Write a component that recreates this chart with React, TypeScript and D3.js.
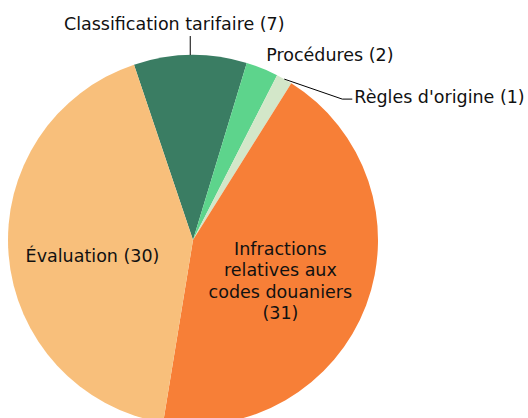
import React from "react";
import * as d3 from "d3";

const categories = [
  "Classification tarifaire",
  "Procédures",
  "Règles d'origine",
  "Infractions relatives aux codes douaniers",
  "Évaluation",
];
const values = [7, 2, 1, 31, 30];
const colors = ["#3a7d63", "#5dd48c", "#d3e7c9", "#f77f37", "#f8bf7b"];
const labelLines = [
  ["Classification tarifaire (7)"],
  ["Procédures (2)"],
  ["Règles d'origine (1)"],
  ["Infractions", "relatives aux", "codes douaniers", "(31)"],
  ["Évaluation (30)"],
];

const W = 528;
const H = 418;
const cx = 193;
const cy = 240;
const R = 185;
const startDeg = -18.6;

export default function App() {
  const data = categories.map((c, i) => ({ c, v: values[i], i }));
  const pie = d3
    .pie<any>()
    .sort(null)
    .value((d) => d.v)
    .startAngle((startDeg * Math.PI) / 180)
    .endAngle((startDeg * Math.PI) / 180 + 2 * Math.PI);
  const arcs = pie(data);
  const arc = d3.arc<any>().innerRadius(0).outerRadius(R);
  const pt = (a: number, r: number) => [Math.sin(a) * r, -Math.cos(a) * r];
  const font = "'DejaVu Sans', Verdana, sans-serif";
  const fs = 17.5;

  return (
    <div style={{ position: "absolute", left: 0, top: 0 }}>
      <svg width={W} height={H} style={{ display: "block" }}>
        <rect width={W} height={H} fill="#fff" />
        <g transform={`translate(${cx},${cy})`}>
          {arcs.map((a, i) => (
            <path key={i} d={arc(a) as string} fill={colors[i]} />
          ))}
          {arcs.map((a, i) => {
            const mid = (a.startAngle + a.endAngle) / 2;
            if (i === 0) {
              const [x0, y0] = pt(mid, R);
              return (
                <g key={"l" + i}>
                  <line x1={x0} y1={y0} x2={x0} y2={y0 - 19} stroke="#000" strokeWidth={1} />
                  <text x={x0 - 16} y={y0 - 25} textAnchor="middle" fontFamily={font} fontSize={fs} fill="#111">
                    {labelLines[i][0]}
                  </text>
                </g>
              );
            }
            if (i === 1) {
              const [x0, y0] = pt(mid, R);
              return (
                <text key={"l" + i} x={x0 + 4} y={y0 - 7} textAnchor="start" fontFamily={font} fontSize={fs} fill="#111">
                  {labelLines[i][0]}
                </text>
              );
            }
            if (i === 2) {
              const [x0, y0] = pt(mid, R);
              const x1 = x0 + 58;
              const y1 = y0 + 20;
              return (
                <g key={"l" + i}>
                  <polyline
                    points={`${x0},${y0} ${x1},${y1} ${x1 + 10},${y1}`}
                    fill="none"
                    stroke="#000"
                    strokeWidth={1}
                  />
                  <text x={x1 + 12} y={y1 + 4} textAnchor="start" fontFamily={font} fontSize={fs} fill="#111">
                    {labelLines[i][0]}
                  </text>
                </g>
              );
            }
            const rr = i === 3 ? R * 0.505 : R * 0.545;
            const [lx, ly] = pt(mid, rr);
            const lines = labelLines[i];
            const lh = 21.5;
            const top = ly + (i === 3 ? 8 : 8) - ((lines.length - 1) * lh) / 2 + 6;
            return (
              <text key={"l" + i} textAnchor="middle" fontFamily={font} fontSize={fs} fill="#111">
                {lines.map((s, k) => (
                  <tspan key={k} x={lx} y={top + k * lh}>
                    {s}
                  </tspan>
                ))}
              </text>
            );
          })}
        </g>
      </svg>
    </div>
  );
}
